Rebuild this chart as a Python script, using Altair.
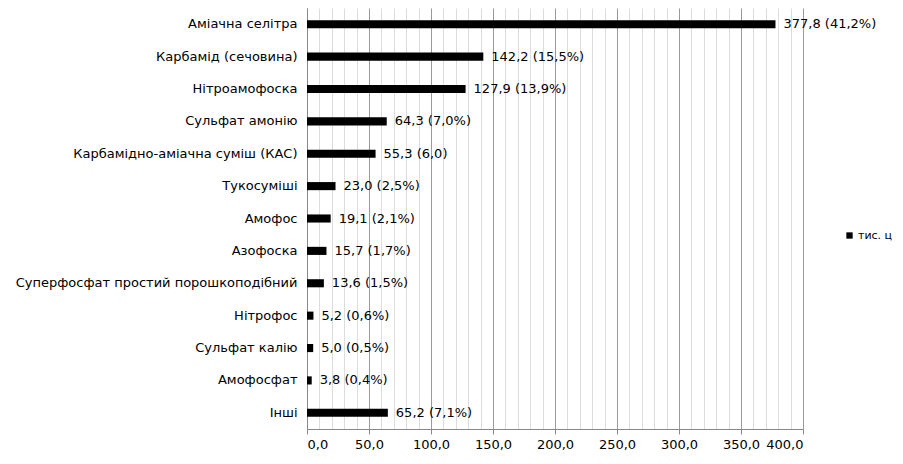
import altair as alt
import pandas as pd

categories = [
    "Аміачна селітра",
    "Карбамід (сечовина)",
    "Нітроамофоска",
    "Сульфат амонію",
    "Карбамідно-аміачна суміш (КАС)",
    "Тукосуміші",
    "Амофос",
    "Азофоска",
    "Суперфосфат простий порошкоподібний",
    "Нітрофос",
    "Сульфат калію",
    "Амофосфат",
    "Інші",
]
values = [377.8, 142.2, 127.9, 64.3, 55.3, 23.0, 19.1, 15.7, 13.6, 5.2, 5.0, 3.8, 65.2]
shares = ["(41,2%)", "(15,5%)", "(13,9%)", "(7,0%)", "(6,0)", "(2,5%)", "(2,1%)",
          "(1,7%)", "(1,5%)", "(0,6%)", "(0,5%)", "(0,4%)", "(7,1%)"]
series_name = "тис. ц"
x_ticks = list(range(0, 401, 10))

df = pd.DataFrame({
    "cat": categories,
    "value": values,
    "label": [f"{v:.1f}".replace(".", ",") + " " + s for v, s in zip(values, shares)],
    "series": [series_name] * len(categories),
})

FONT = "DejaVu Sans"
FS = 13

x_axis = alt.Axis(
    values=x_ticks,
    title=None,
    labelOverlap=False,
    labelExpr="datum.value % 50 === 0 ? replace(format(datum.value, '.1f'), '.', ',') : ''",
    gridColor={"condition": {"test": "datum.value % 50 === 0", "value": "#9a9a9a"}, "value": "#dcdcdc"},
    tickOpacity={"condition": {"test": "datum.value % 50 === 0", "value": 1}, "value": 0},
    tickColor="#888888",
    tickSize=5,
    domainColor="#888888",
    labelFont=FONT,
    labelFontSize=FS,
    labelColor="#000000",
    labelPadding=4,
)
x_scale = alt.Scale(domain=[0, 400], nice=False)

y_axis = alt.Axis(
    title=None,
    ticks=False,
    domainColor="#888888",
    labelFont=FONT,
    labelFontSize=FS,
    labelColor="#000000",
    labelPadding=10,
    labelLimit=400,
)
y_scale = alt.Scale(paddingInner=0.75, paddingOuter=0.375)

bars = alt.Chart(df).mark_bar(color="#000000").encode(
    x=alt.X("value:Q", scale=x_scale, axis=x_axis),
    y=alt.Y("cat:N", sort=categories, scale=y_scale, axis=y_axis),
    color=alt.Color(
        "series:N",
        scale=alt.Scale(range=["#000000"]),
        legend=alt.Legend(
            title=None,
            orient="none",
            legendX=537,
            legendY=222,
            symbolType="square",
            symbolSize=40,
            labelFont=FONT,
            labelFontSize=11,
            labelOffset=3,
            labelLimit=200,
            labelColor="#000000",
        ),
    ),
)

texts = alt.Chart(df).mark_text(
    align="left", baseline="middle", dx=8, font=FONT, fontSize=FS, color="#000000"
).encode(
    x=alt.X("value:Q", scale=x_scale, axis=x_axis),
    y=alt.Y("cat:N", sort=categories, scale=y_scale, axis=y_axis),
    text="label:N",
)

chart = (bars + texts).properties(
    width=496,
    height=421,
    autosize=alt.AutoSizeParams(type="none"),
    padding={"left": 299, "top": 0, "right": 92, "bottom": 25},
).configure_view(stroke=None).configure_axis(gridOpacity=1)

chart.save("out.html", embed_options={"renderer": "svg", "actions": False})
